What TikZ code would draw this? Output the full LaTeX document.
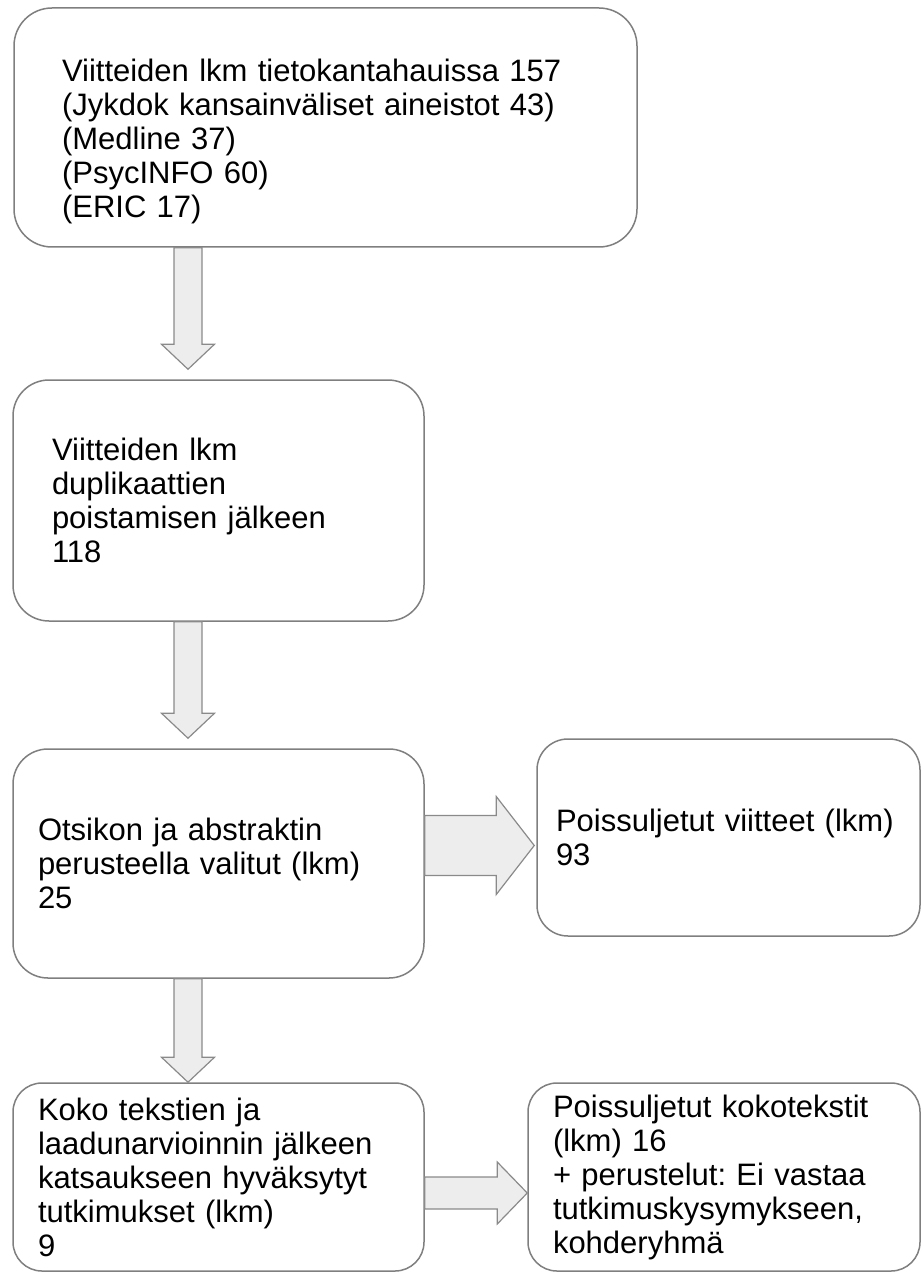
\documentclass[tikz,border=0pt]{standalone}
\usepackage{fontspec}
\setmainfont{Liberation Sans}
\usepackage{xcolor}
\usetikzlibrary{calc}
\frenchspacing

\definecolor{edgegray}{HTML}{7F7F7F}
\definecolor{arrfill}{HTML}{EDEDED}
\definecolor{arredge}{HTML}{8A8A8A}

\begin{document}
\begin{tikzpicture}[
    x=1pt, y=-1pt,
    box/.style={draw=edgegray, line width=1.5pt, align=left, inner ysep=0pt,
                font=\fontsize{31}{34}\selectfont},
    blockarr/.style={fill=arrfill, draw=arredge, line width=1.2pt, line join=miter}
]
\useasboundingbox (0,0) rectangle (921,1273);
% column of the downward arrows
\coordinate (col) at (188,0);
% database searches
\node[box, rounded corners=38pt, minimum width=623pt, minimum height=239pt, inner xsep=48pt, text width=527pt] (search) at (325.5,127.5)
  {\rule{0pt}{51pt}Viitteiden lkm tietokantahauissa 157\\(Jykdok kansainväliset aineistot 43)\\(Medline 37)\\(PsycINFO 60)\\(ERIC 17)};
% after duplicates removed
\node[box, rounded corners=36pt, minimum width=411pt, minimum height=241pt, inner xsep=39pt, text width=333pt] (dedup) at (218.5,500.5)
  {Viitteiden lkm\\duplikaattien\\poistamisen jälkeen\\118};
% title and abstract screening
\node[box, rounded corners=35pt, minimum width=411pt, minimum height=229pt, inner xsep=25pt, text width=361pt] (screen) at (218.5,863.5)
  {Otsikon ja abstraktin\\perusteella valitut (lkm)\\25};
% excluded records
\node[box, rounded corners=31pt, minimum width=383pt, minimum height=197pt, inner xsep=19pt, text width=345pt] (excl) at (728.5,837.5)
  {Poissuljetut viitteet (lkm)\\93};
% included studies
\node[box, rounded corners=29pt, minimum width=411pt, minimum height=188pt, inner xsep=25pt, text width=361pt] (incl) at (218.5,1177)
  {Koko tekstien ja\\laadunarvioinnin jälkeen\\katsaukseen hyväksytyt\\tutkimukset (lkm)\\9};
% excluded full texts
\node[box, rounded corners=29pt, minimum width=392pt, minimum height=188pt, inner xsep=25pt, text width=342pt] (exclfull) at (724,1177)
  {Poissuljetut kokotekstit\\(lkm) 16\\+ perustelut: Ei vastaa\\tutkimuskysymykseen,\\kohderyhmä};
% searches -> dedup
\draw[blockarr] let \p1=(col |- search.south), \p2=($(col |- dedup.north)+(0,-10)$) in
  (\x1-14pt,\y1) -- (\x1-14pt,\y2+25pt) -- (\x1-26.5pt,\y2+25pt) -- (\x1,\y2)
  -- (\x1+26.5pt,\y2+25pt) -- (\x1+14pt,\y2+25pt) -- (\x1+14pt,\y1) -- cycle;
% dedup -> screening
\draw[blockarr] let \p1=(col |- dedup.south), \p2=($(col |- screen.north)+(0,-10)$) in
  (\x1-14pt,\y1) -- (\x1-14pt,\y2+25pt) -- (\x1-26.5pt,\y2+25pt) -- (\x1,\y2)
  -- (\x1+26.5pt,\y2+25pt) -- (\x1+14pt,\y2+25pt) -- (\x1+14pt,\y1) -- cycle;
% screening -> excluded records
\draw[blockarr] let \p1=($(screen.east)+(0,-18)$), \p2=($(excl.west)+(-2,0)$) in
  (\x1,\y1+30pt) -- (\x2-38pt,\y1+30pt) -- (\x2-38pt,\y1+49pt) -- (\x2,\y1)
  -- (\x2-38pt,\y1-49pt) -- (\x2-38pt,\y1-30pt) -- (\x1,\y1-30pt) -- cycle;
% screening -> included
\draw[blockarr] let \p1=(col |- screen.south), \p2=(col |- incl.north) in
  (\x1-14pt,\y1) -- (\x1-14pt,\y2+25pt) -- (\x1-26.5pt,\y2+25pt) -- (\x1,\y2)
  -- (\x1+26.5pt,\y2+25pt) -- (\x1+14pt,\y2+25pt) -- (\x1+14pt,\y1) -- cycle;
% included -> excluded full texts
\draw[blockarr] let \p1=($(incl.east)+(0,16)$), \p2=($(exclfull.west)+(0,16)$) in
  (\x1,\y1+16pt) -- (\x2-30pt,\y1+16pt) -- (\x2-30pt,\y1+31pt) -- (\x2,\y1)
  -- (\x2-30pt,\y1-31pt) -- (\x2-30pt,\y1-16pt) -- (\x1,\y1-16pt) -- cycle;
\end{tikzpicture}
\end{document}
